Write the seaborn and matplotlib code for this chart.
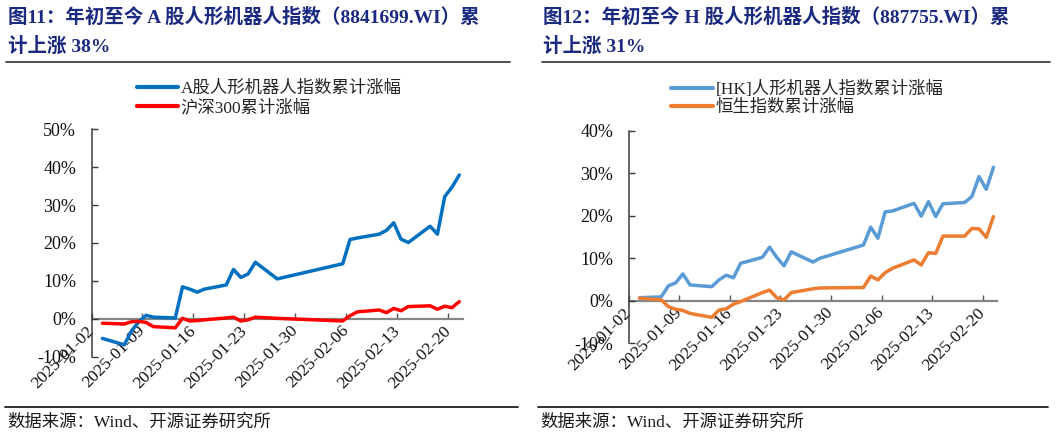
import matplotlib
matplotlib.use("Agg")
import matplotlib.pyplot as plt
import matplotlib.dates as mdates
from matplotlib.lines import Line2D
import numpy as np
import pandas as pd
import seaborn as sns

# ---------------- data ----------------
a_dates = ["2025-01-03", "2025-01-06", "2025-01-07", "2025-01-08", "2025-01-09", "2025-01-10",
           "2025-01-13", "2025-01-14", "2025-01-15", "2025-01-16", "2025-01-17", "2025-01-20",
           "2025-01-21", "2025-01-22", "2025-01-23", "2025-01-24", "2025-01-27", "2025-02-05",
           "2025-02-06", "2025-02-07", "2025-02-10", "2025-02-11", "2025-02-12", "2025-02-13",
           "2025-02-14", "2025-02-17", "2025-02-18", "2025-02-19", "2025-02-20", "2025-02-21"]
a_robot = [-5.2, -6.9, -3.2, -0.8, 0.9, 0.4, 0.2, 8.4, 7.8, 7.0, 7.8, 8.9, 13.0, 10.9, 11.8,
           14.9, 10.5, 14.5, 20.9, 21.3, 22.3, 23.3, 25.3, 21.0, 20.1, 24.4, 22.3, 32.2, 34.7, 37.9]
a_hs300 = [-1.2, -1.4, -0.8, -0.7, -1.0, -2.1, -2.4, 0.1, -0.6, -0.5, -0.3, 0.2, 0.4, -0.6, -0.3,
           0.4, 0.1, -0.6, 0.8, 1.8, 2.3, 1.6, 2.7, 2.1, 3.2, 3.4, 2.5, 3.3, 2.9, 4.5]

h_dates = ["2025-01-03", "2025-01-06", "2025-01-07", "2025-01-08", "2025-01-09", "2025-01-10",
           "2025-01-13", "2025-01-14", "2025-01-15", "2025-01-16", "2025-01-17", "2025-01-20",
           "2025-01-21", "2025-01-22", "2025-01-23", "2025-01-24", "2025-01-27", "2025-01-28",
           "2025-02-03", "2025-02-04", "2025-02-05", "2025-02-06", "2025-02-07", "2025-02-10",
           "2025-02-11", "2025-02-12", "2025-02-13", "2025-02-14", "2025-02-17", "2025-02-18",
           "2025-02-19", "2025-02-20", "2025-02-21"]
h_robot = [0.7, 0.9, 3.5, 4.2, 6.3, 3.7, 3.3, 4.9, 6.0, 5.4, 8.8, 10.2, 12.6, 10.2, 8.2, 11.5,
           9.1, 10.0, 13.1, 17.3, 14.7, 20.9, 21.1, 22.9, 19.9, 23.3, 19.8, 22.8, 23.1, 24.5,
           29.2, 26.2, 31.4]
h_hsi = [0.6, 0.2, -1.4, -2.0, -2.3, -3.0, -3.9, -2.2, -1.9, -0.8, -0.2, 1.9, 2.5, 0.7, 0.2, 1.9,
         2.8, 3.0, 3.1, 5.8, 4.9, 6.6, 7.6, 9.6, 8.4, 11.3, 11.1, 15.2, 15.2, 17.0, 16.9, 14.9, 19.8]

tick_dates = ["2025-01-02", "2025-01-09", "2025-01-16", "2025-01-23", "2025-01-30",
              "2025-02-06", "2025-02-13", "2025-02-20"]

left_title = ["图11：年初至今 A 股人形机器人指数（8841699.WI）累", "计上涨 38%"]
right_title = ["图12：年初至今 H 股人形机器人指数（887755.WI）累", "计上涨 31%"]
left_labels = ["A股人形机器人指数累计涨幅", "沪深300累计涨幅"]
right_labels = ["[HK]人形机器人指数累计涨幅", "恒生指数累计涨幅"]
source_text = "数据来源：Wind、开源证券研究所"

# ---------------- style ----------------
sns.set_theme(style="white")
FAM = ["Liberation Serif", "Noto Sans CJK SC", "DejaVu Sans"]
plt.rcParams["font.family"] = FAM
plt.rcParams["axes.unicode_minus"] = False

W, H = 1057, 436
fig = plt.figure(figsize=(W / 100, H / 100), dpi=100)
fig.patch.set_facecolor("white")

TITLE_C = "#1B2A80"


def frame_axes(rect_px):
    x0, y0, x1, y1 = rect_px  # pixel coords from top-left: left, top, right, bottom
    return fig.add_axes([x0 / W, 1 - y1 / H, (x1 - x0) / W, (y1 - y0) / H])


def build(ax, dates, s1, s2, labels, colors, ylim, yticks, leg_xy):
    idx = pd.to_datetime(dates) + pd.Timedelta(hours=12)
    df = pd.DataFrame({
        "date": list(idx) * 2,
        "value": list(s1) + list(s2),
        "series": [labels[0]] * len(s1) + [labels[1]] * len(s2),
    })
    sns.lineplot(data=df, x="date", y="value", hue="series", hue_order=labels,
                 palette=colors, linewidth=2.5, estimator=None, legend=False, ax=ax,
                 zorder=3)
    ax.set_facecolor("white")
    ax.set_xlim(pd.Timestamp("2025-01-02"), pd.Timestamp("2025-02-22"))
    ax.set_ylim(*ylim)
    ax.set_xlabel("")
    ax.set_ylabel("")
    ax.grid(False)
    for s in ["top", "right", "bottom"]:
        ax.spines[s].set_visible(False)
    ax.spines["left"].set_color("#3a3a3a")
    ax.spines["left"].set_linewidth(1.1)
    ax.set_yticks(yticks)
    ax.set_yticklabels([f"{v:.0f}%" for v in yticks])
    ax.tick_params(axis="y", direction="in", length=4, width=1.0, color="#3a3a3a",
                   pad=11, labelsize=13, labelcolor="#111111", left=True)
    ax.tick_params(axis="x", length=0, labelbottom=False, bottom=False)

    sec = ax.secondary_xaxis(0, transform=ax.transData)
    sec.set_xticks(mdates.date2num(pd.to_datetime(tick_dates)))
    sec.xaxis.set_major_formatter(mdates.DateFormatter("%Y-%m-%d"))
    sec.spines["bottom"].set_color("#858585")
    sec.spines["bottom"].set_linewidth(1.6)
    sec.tick_params(axis="x", direction="in", length=4, width=1.0, color="#555555",
                    pad=7, labelsize=12.5, labelcolor="#111111")
    for lbl in sec.get_xticklabels():
        lbl.set_rotation(45)
        lbl.set_ha("right")
        lbl.set_va("center")
        lbl.set_rotation_mode("anchor")

    handles = [Line2D([], [], color=c, lw=3) for c in colors]
    ax.legend(handles, labels, loc="upper left", bbox_to_anchor=(leg_xy[0] / W, 1 - leg_xy[1] / H),
              bbox_transform=fig.transFigure, frameon=False, handlelength=2.4,
              handletextpad=0.15, labelspacing=0.1, borderpad=0, borderaxespad=0,
              prop={"family": FAM, "size": 12.5})


# left panel
axL = frame_axes((91.5, 129.2, 462.9, 356.6))
build(axL, a_dates, a_robot, a_hs300, left_labels, ["#0070C0", "#FF0000"],
      (-10, 50), [-10, 0, 10, 20, 30, 40, 50], (136.5, 81))

# right panel
axR = frame_axes((628.7, 130.7, 997.1, 343.2))
build(axR, h_dates, h_robot, h_hsi, right_labels, ["#5B9BD5", "#ED7D31"],
      (-10, 40), [-10, 0, 10, 20, 30, 40], (671, 81))

# titles
for x0, lines in [(8, left_title), (543, right_title)]:
    fig.text(x0 / W, 1 - 17.5 / H, lines[0], color=TITLE_C, fontsize=14, fontweight="bold",
             va="center", ha="left", family=FAM)
    fig.text(x0 / W, 1 - 46.5 / H, lines[1], color=TITLE_C, fontsize=14, fontweight="bold",
             va="center", ha="left", family=FAM)

# separator lines
for xa, xb in [(6, 510), (542, 1050)]:
    fig.add_artist(Line2D([xa / W, xb / W], [1 - 62 / H] * 2, transform=fig.transFigure,
                          color="#404040", lw=1.3))
for xa, xb in [(5, 518), (538, 1048)]:
    fig.add_artist(Line2D([xa / W, xb / W], [1 - 406.5 / H] * 2, transform=fig.transFigure,
                          color="#202020", lw=1.3))

# sources
for x0 in (7, 540):
    fig.text(x0 / W, 1 - 423 / H, source_text, fontsize=12.5, color="#1a1a1a",
             va="center", ha="left", family=FAM)

fig.savefig("out.png", dpi=100, facecolor="white")
